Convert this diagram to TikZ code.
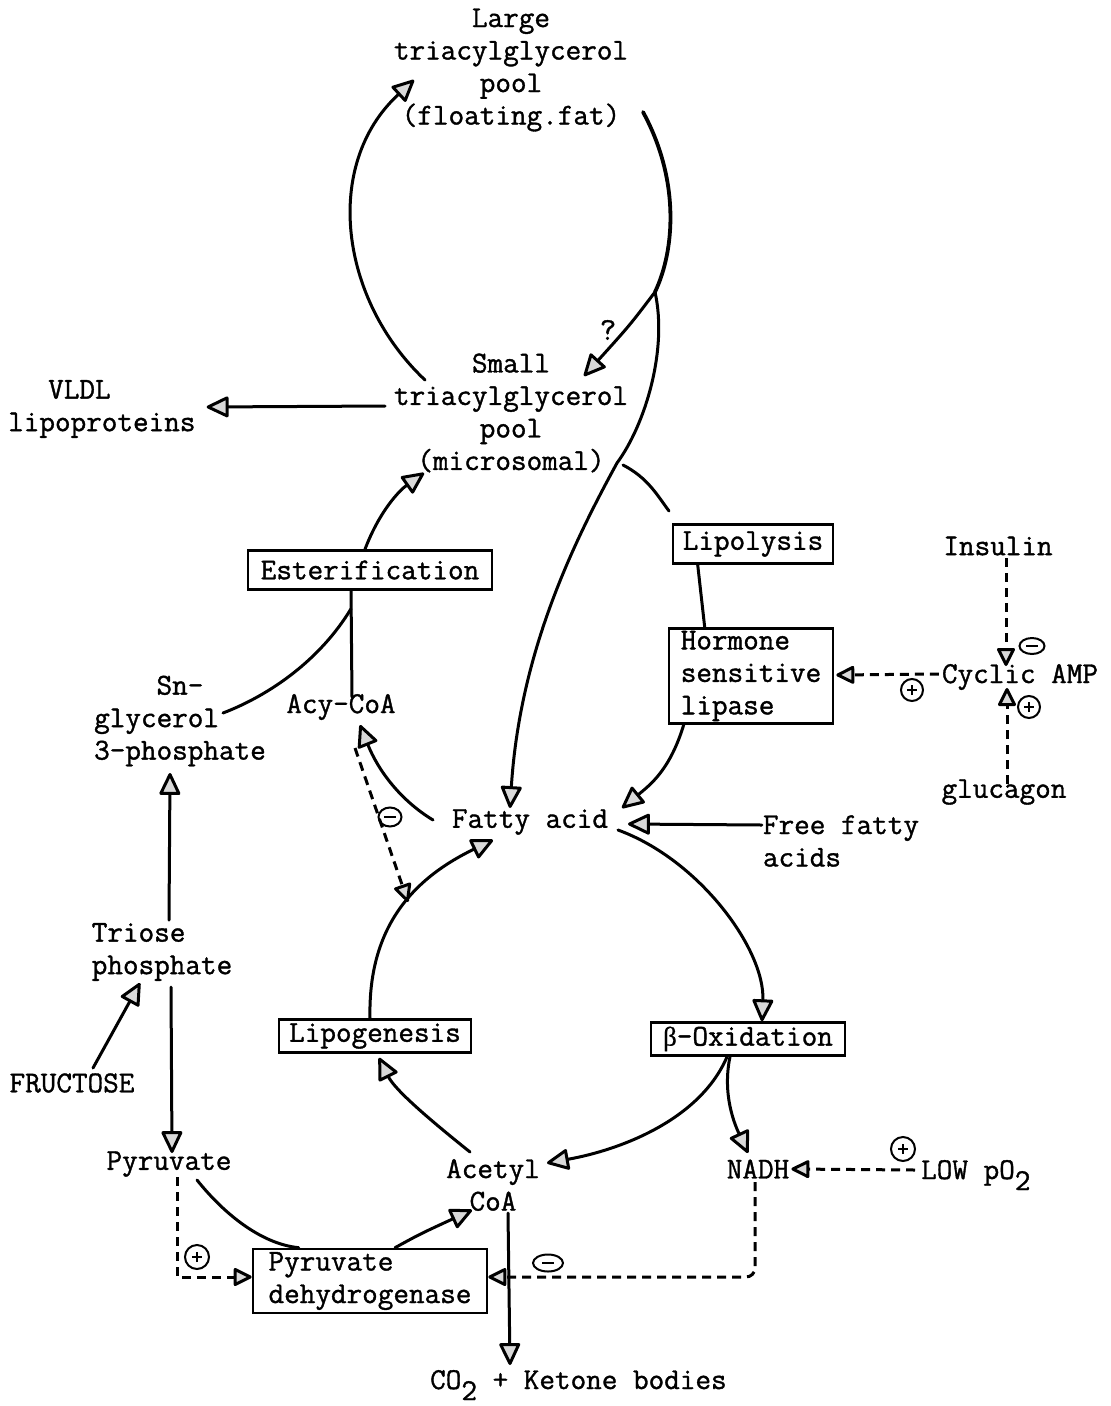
\documentclass[tikz,border=0pt]{standalone}
\usepackage{fontspec}
\setmainfont{Liberation Mono}
\setmonofont{Latin Modern Mono}[FakeBold=1.2]
\newfontfamily\grk{Liberation Serif}[FakeBold=0.6]
\usetikzlibrary{arrows.meta,shapes.geometric}
\newcommand\fs{\fontsize{30.3pt}{32.5pt}\ttfamily\selectfont}
\tikzset{
  lbl/.style={font=\fs, inner sep=0pt, align=center},
  lbll/.style={font=\fs, inner sep=0pt, align=left},
  boxn/.style={draw, line width=2.6pt, font=\fs, inner sep=0pt, align=left},
  ln/.style={line width=3pt, line cap=round},
  ar/.style={line width=3pt, line cap=round, -{Triangle[length=24pt,width=22pt,fill=gray!30,round]}},
  dsh/.style={line width=3pt, dash pattern=on 9pt off 6pt},
  dar/.style={dsh, -{Triangle[length=20pt,width=19pt,fill=gray!30,round]}},
  plussign/.style={circle, draw, line width=2pt, minimum size=#1, inner sep=0pt,
    path picture={\draw[line width=1.4pt] ([xshift=-5pt]path picture bounding box.center) -- ([xshift=5pt]path picture bounding box.center);
                  \draw[line width=1.4pt] ([yshift=-5pt]path picture bounding box.center) -- ([yshift=5pt]path picture bounding box.center);}},
  minussign/.style args={#1x#2}{ellipse, draw, line width=2pt, minimum width=#1, minimum height=#2, inner sep=0pt,
    path picture={\draw[line width=1.6pt] ([xshift=-6pt]path picture bounding box.center) -- ([xshift=6pt]path picture bounding box.center);}}
}
\begin{document}
\begin{tikzpicture}[x=1pt,y=-1pt]
\useasboundingbox (0,0) rectangle (1111,1406);

% ---------- text nodes ----------
\node[lbl] (large) at (511,70) {Large\\triacylglycerol\\pool\\(floating.fat)};
\node[lbl] (small) at (511,413) {Small\\triacylglycerol\\pool\\(microsomal)};
\node[lbll, anchor=west] (vldl) at (8,409) {\hspace*{40pt}VLDL\\lipoproteins};
\node[lbl] (qm) at (608,330) {\fontsize{32pt}{32pt}\selectfont ?};

\node[boxn, minimum width=244pt, minimum height=39pt, align=center] (ester) at (370,570) {Esterification};
\node[boxn, minimum width=160pt, minimum height=39pt, align=center] (lipo) at (753,544) {Lipolysis};
\node[boxn, minimum width=164pt, minimum height=95pt] (hsl) at (751,676) {Hormone\\sensitive\\lipase};
\node[boxn, minimum width=192pt, minimum height=33pt, align=center] (lipog) at (375,1036) {Lipogenesis};
\node[boxn, minimum width=194pt, minimum height=33pt, align=center] (box) at (748,1039) {{\grk\fontsize{27pt}{27pt}\selectfont β}-Oxidation};
\node[boxn, minimum width=234pt, minimum height=64pt] (pdh) at (370,1281) {Pyruvate\\dehydrogenase};

\node[lbll] (sng) at (180,721) {\phantom{0000}Sn-\\glycerol\\3-phosphate};
\node[lbl] (acy) at (341,707) {Acy-CoA};
\node[lbl] (fa) at (530,822) {Fatty acid};
\node[lbll] (ffa) at (841,841) {Free fatty\\acids};
\node[lbll] (triose) at (162,952) {Triose\\phosphate};
\node[lbl] (fru) at (72,1083) {FRUCTOSE};
\node[lbl] (pyr) at (169,1164) {Pyruvate};
\node[lbl] (acet) at (493,1185) {Acetyl\\CoA};
\node[lbl] (nadh) at (758,1169) {NADH};
\node[lbl, anchor=base west] (lowpo) at (921,1179) {LOW pO\raisebox{-11pt}{2}};
\node[lbl, anchor=base west] (co2) at (430,1389) {CO\raisebox{-11pt}{2} + Ketone bodies};
\node[lbl] (ins) at (998,546) {Insulin};
\node[lbl] (camp) at (1020,677) {Cyclic AMP};
\node[lbl] (glu) at (1004,792) {glucagon};

% ---------- signs ----------
\node[minussign=25pt x 16pt] (m1) at (1032,646) {};
\node[plussign=22pt] (p1) at (912,690) {};
\node[plussign=22pt] (p2) at (1029,707) {};
\node[minussign=23pt x 19pt] (m2) at (390,817) {};
\node[plussign=24pt] (p3) at (197,1257) {};
\node[minussign=30pt x 17pt] (m3) at (548,1263) {};
\node[plussign=24pt] (p4) at (903,1149) {};

% ---------- coordinates ----------
\coordinate (la1) at (425,380);
\coordinate (la2) at (414,80);
\coordinate (ra0) at (643,112);
\coordinate (ra1) at (655,292);
\coordinate (qtip) at (584,376);
\coordinate (jx) at (617,463);
\coordinate (jx2) at (623,465);
\coordinate (fatop) at (510,808);
\coordinate (lipotop) at (669,511);

% ---------- connectors ----------
% small -> large (left arc)
\draw[ar] (la1) .. controls (340,300) and (322,165) .. (la2);
% large -> fatty acid (right arc)
\draw[ln, line width=3.8pt] (ra0) .. controls (680,180) and (675,250) .. (ra1);
\draw[ar] (ra1) .. controls (668,350) and (645,425) .. (jx) .. controls (575,540) and (520,650) .. (fatop);
% ? branch
\draw[ar] (ra1) .. controls (630,325) .. (qtip);
% microsomal -> lipolysis
\draw[ln] (jx2) .. controls (648,478) and (657,495) .. (lipotop);
% small -> VLDL
\draw[ar] ([shift={(-126,-7)}]small.center) -- ([shift={(11,-2)}]vldl.east);
% esterification -> small
\draw[ar] ([xshift=-5pt]ester.north) .. controls (380,510) and (400,490) .. ([shift={(-87,60)}]small.center);
% esterification lines
\draw[ln] ([xshift=-19pt]ester.south) -- ([shift={(11,-10)}]acy.center);
\draw[ln] ([shift={(-19,18)}]ester.south) .. controls (320,660) and (270,695) .. (223,713);
% lipolysis -> HSL
\draw[ln] ([xshift=26pt]lipo.south west) -- ([xshift=37pt]hsl.north west);
% HSL -> fatty acid
\draw[ar] ([xshift=16pt]hsl.south west) .. controls (670,770) and (650,785) .. ([shift={(92,-14)}]fa.center);
% free fatty acids -> fatty acid
\draw[ar] ([shift={(-1,-16)}]ffa.west) -- ([shift={(98,2)}]fa.center);
% fatty acid -> beta-oxidation
\draw[ar] ([shift={(88,8)}]fa.center) .. controls (700,860) and (765,950) .. ([xshift=14pt]box.north);
% beta-oxidation -> acetyl CoA
\draw[ar] ([xshift=-21pt]box.south) .. controls (700,1120) and (620,1150) .. ([shift={(54,-22)}]acet.center);
% beta-oxidation -> NADH
\draw[ar] ([xshift=-18pt]box.south) .. controls (722,1095) and (735,1125) .. ([shift={(-10,-16)}]nadh.center);
% acetyl CoA -> lipogenesis
\draw[ar] ([shift={(-23,-33)}]acet.center) .. controls (430,1120) and (395,1090) .. ([shift={(4,4)}]lipog.south);
% lipogenesis -> fatty acid
\draw[ar] ([xshift=-5pt]lipog.north) .. controls (368,930) and (410,880) .. ([shift={(-37,18)}]fa.center);
% fatty acid -> acy-CoA
\draw[ar] ([shift={(-97,-2)}]fa.center) .. controls (400,800) and (378,770) .. ([shift={(19,18)}]acy.center);
% acy-CoA --> lipogenesis (inhibition)
\draw[dar] ([shift={(14,41)}]acy.center) -- (408,902);
% triose -> sn-glycerol
\draw[ar] ([shift={(7,-32)}]triose.center) -- ([shift={(-10,52)}]sng.center);
% fructose -> triose
\draw[ar] ([shift={(21,-15)}]fru.center) -- ([shift={(-22,31)}]triose.center);
% triose -> pyruvate
\draw[ar] ([shift={(9,35)}]triose.center) -- ([shift={(3,-11)}]pyr.center);
% pyruvate -> PDH
\draw[ln] ([shift={(28,16)}]pyr.center) .. controls (225,1215) and (262,1244) .. ([xshift=47pt]pdh.north west);
% PDH -> acetyl CoA
\draw[ar] ([xshift=25pt]pdh.north) .. controls (420,1234) .. ([shift={(-21,25)}]acet.center);
% acetyl CoA -> CO2
\draw[ar] ([shift={(15,28)}]acet.center) -- ([shift={(80,-24)}]co2.base west);
% pyruvate --> PDH
\draw[dar] ([shift={(8,13)}]pyr.center) |- ([shift={(0,-4)}]pdh.west);
% NADH --> PDH
\draw[dar, rounded corners=9pt] ([shift={(-3,13)}]nadh.center) |- ([shift={(0,-4)}]pdh.east);
% LOW pO2 --> NADH
\draw[dar] ([shift={(-6,-9)}]lowpo.base west) -- ([xshift=2pt]nadh.east);
% cyclic AMP --> HSL
\draw[dar] ([shift={(-3,-3)}]camp.west) -- ([shift={(2,-1)}]hsl.east);
% insulin --> cyclic AMP
\draw[dar] ([shift={(8,12)}]ins.center) -- ([shift={(-14,-11)}]camp.center);
% glucagon --> cyclic AMP
\draw[dar] ([shift={(3,-8)}]glu.center) -- ([shift={(-13,11)}]camp.center);
\end{tikzpicture}
\end{document}
